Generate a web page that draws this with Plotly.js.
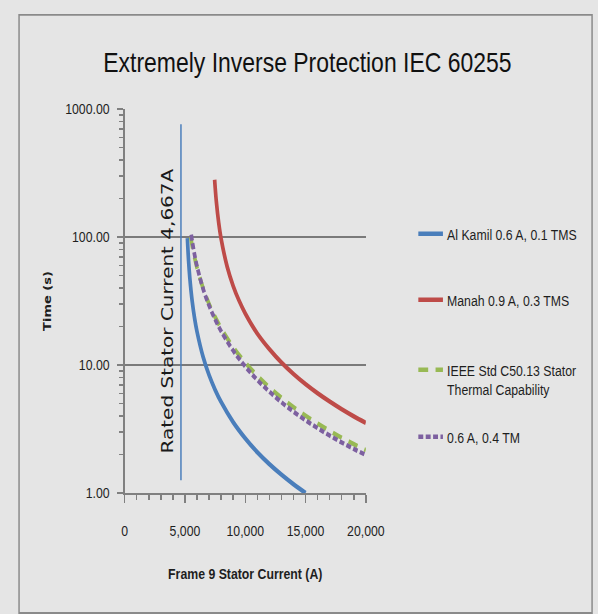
<!DOCTYPE html>
<html>
<head>
<meta charset="utf-8">
<script src="https://cdn.plot.ly/plotly-3.0.1.min.js"></script>
<style>
  html, body { margin: 0; padding: 0; background: #e5e5e5; overflow: hidden; }
  /* the chart is laid out wide and squeezed horizontally to its 598px frame */
  #chart { width: 729px; height: 614px; transform: scaleX(0.8203); transform-origin: 0 0; }
</style>
</head>
<body>
<div id="chart"></div>
<script>
// Relay operating curves: stator current (A) vs. operating time (s)
const alKamilCurrent = [5200, 5300, 5400, 5600, 5800, 6000, 6500, 7000, 7500, 8000, 9000, 10000, 11000, 12000, 13000, 14000, 15000];
const alKamilTime    = [98.0, 64.7, 48.1, 31.4, 23.1, 18.2, 11.6, 8.33, 6.40, 5.13, 3.57, 2.67, 2.08, 1.68, 1.39, 1.17, 1.00];

const manahCurrent = [7460, 7500, 7600, 7800, 8000, 8500, 9000, 9500, 10000, 11000, 12000, 13000, 14000, 15000, 16000, 17000, 18000, 19000, 20000];
const manahTime    = [280, 247, 189.5, 128.5, 96.6, 58.6, 41.4, 31.6, 25.3, 17.6, 13.3, 10.45, 8.50, 7.08, 6.01, 5.18, 4.51, 3.97, 3.53];

const ieeeCurrent = [5470, 5600, 5800, 6000, 6500, 7000, 7500, 8000, 9000, 10000, 11000, 12000, 13000, 14000, 15000, 16000, 17000, 18000, 19000, 20000];
const ieeeTime    = [100.3, 85.3, 68.9, 57.4, 39.9, 30.0, 23.7, 19.35, 13.79, 10.44, 8.23, 6.68, 5.55, 4.69, 4.02, 3.49, 3.06, 2.70, 2.41, 2.16];

const proposedCurrent = [5520, 5600, 5800, 6000, 6500, 7000, 7500, 8000, 9000, 10000, 11000, 12000, 13000, 14000, 15000, 16000, 17000, 18000, 19000, 20000];
const proposedTime    = [104.5, 93.0, 72.4, 58.9, 39.5, 29.1, 22.7, 18.36, 12.94, 9.74, 7.64, 6.19, 5.12, 4.32, 3.70, 3.21, 2.81, 2.48, 2.21, 1.98];

// Rated stator current marker
const ratedCurrent = 4667;
const ratedLineTime = [1.26, 760];
const ratedLabel = 'Rated Stator Current 4,667A';

const seriesNames = [
  'Al Kamil 0.6 A, 0.1 TMS',
  'Manah 0.9 A, 0.3 TMS',
  'IEEE Std C50.13 Stator<br>Thermal Capability',
  '0.6 A, 0.4 TM'
];
const yTickVals = [1, 10, 100, 1000];
const xTickVals = [0, 5000, 10000, 15000, 20000];

const sans = '"Liberation Sans", Arial, sans-serif';
const dejavu = '"DejaVu Sans", sans-serif';
const textColor = '#1e1e1e';

const traces = [
  { x: alKamilCurrent, y: alKamilTime, name: seriesNames[0], legend: 'legend',
    mode: 'lines', line: { color: '#4a7ebb', width: 4.5, shape: 'spline' } },
  { x: manahCurrent, y: manahTime, name: seriesNames[1], legend: 'legend2',
    mode: 'lines', line: { color: '#be4b48', width: 4.5, shape: 'spline' } },
  { x: ieeeCurrent, y: ieeeTime, name: seriesNames[2], legend: 'legend3',
    mode: 'lines', line: { color: '#98b954', width: 4.5, shape: 'spline', dash: '12px,9px' } },
  { x: proposedCurrent, y: proposedTime, name: seriesNames[3], legend: 'legend4',
    mode: 'lines', line: { color: '#7d60a0', width: 4.5, shape: 'spline', dash: '6px,3px' } },
  { x: [ratedCurrent, ratedCurrent], y: ratedLineTime, showlegend: false, hoverinfo: 'skip',
    mode: 'lines', line: { color: '#4a7ebb', width: 1.8 } }
];

function legendAt(y) {
  return {
    xref: 'container', yref: 'container',
    x: 0.6927, xanchor: 'left',
    y: y, yanchor: 'top',
    bgcolor: 'rgba(0,0,0,0)',
    font: { family: sans, size: 15, color: textColor },
    valign: 'top'
  };
}

const layout = {
  width: 729,
  height: 614,
  paper_bgcolor: '#e5e5e5',
  plot_bgcolor: '#e5e5e5',
  margin: { l: 151.5, r: 283, t: 109, b: 121, autoexpand: false },
  showlegend: true,
  title: {
    text: 'Extremely Inverse Protection IEC 60255',
    font: { family: sans, size: 28, color: '#111' },
    xref: 'container', x: 0.514, xanchor: 'center',
    yref: 'container', y: 0.899, yanchor: 'middle'
  },
  xaxis: {
    range: [0, 20000],
    tickvals: xTickVals,
    tickformat: ',d',
    showgrid: false,
    zeroline: false,
    showline: true, linecolor: '#808080', linewidth: 2,
    ticks: 'outside', ticklen: 8, tickwidth: 1.8, tickcolor: '#808080',
    ticklabelstandoff: 15,
    minor: { dtick: 1000, ticks: 'outside', ticklen: 5, tickwidth: 1.8, tickcolor: '#808080', showgrid: false },
    tickfont: { family: sans, size: 15, color: textColor },
    title: { text: '<b>Frame 9 Stator Current (A)</b>', font: { family: sans, size: 15, color: textColor }, standoff: 31 },
    fixedrange: true
  },
  yaxis: {
    type: 'log',
    range: [0, 3],
    tickvals: yTickVals,
    tickformat: '.2f',
    showgrid: true, gridcolor: '#7a7a7a', gridwidth: 2,
    zeroline: false,
    showline: true, linecolor: '#808080', linewidth: 2.4,
    ticks: 'outside', ticklen: 7, tickwidth: 1.5, tickcolor: '#808080',
    ticklabelstandoff: 6,
    minor: { dtick: 'D1', ticks: 'outside', ticklen: 4, tickwidth: 1.5, tickcolor: '#808080', showgrid: false },
    tickfont: { family: sans, size: 15, color: textColor },
    title: { text: '<b>Time (s)</b>', font: { family: dejavu, size: 13, color: textColor }, standoff: 14 },
    fixedrange: true
  },
  legend: legendAt(0.6459),
  legend2: legendAt(0.5384),
  legend3: legendAt(0.4244),
  legend4: legendAt(0.3153),
  annotations: [
    {
      x: 3500, y: Math.log10(26.4), xref: 'x', yref: 'y',
      text: ratedLabel, textangle: -90, showarrow: false,
      font: { family: dejavu, size: 20, color: '#1a1a1a' }
    }
  ],
  shapes: [
    { type: 'rect', xref: 'paper', yref: 'paper',
      x0: -0.438, x1: 1.938, y0: -0.3125, y1: 1.245,
      line: { color: '#8a8a8a', width: 1.8 }, fillcolor: 'rgba(0,0,0,0)', layer: 'below' }
  ]
};

Plotly.newPlot('chart', traces, layout, { staticPlot: true, displayModeBar: false });
</script>
</body>
</html>
